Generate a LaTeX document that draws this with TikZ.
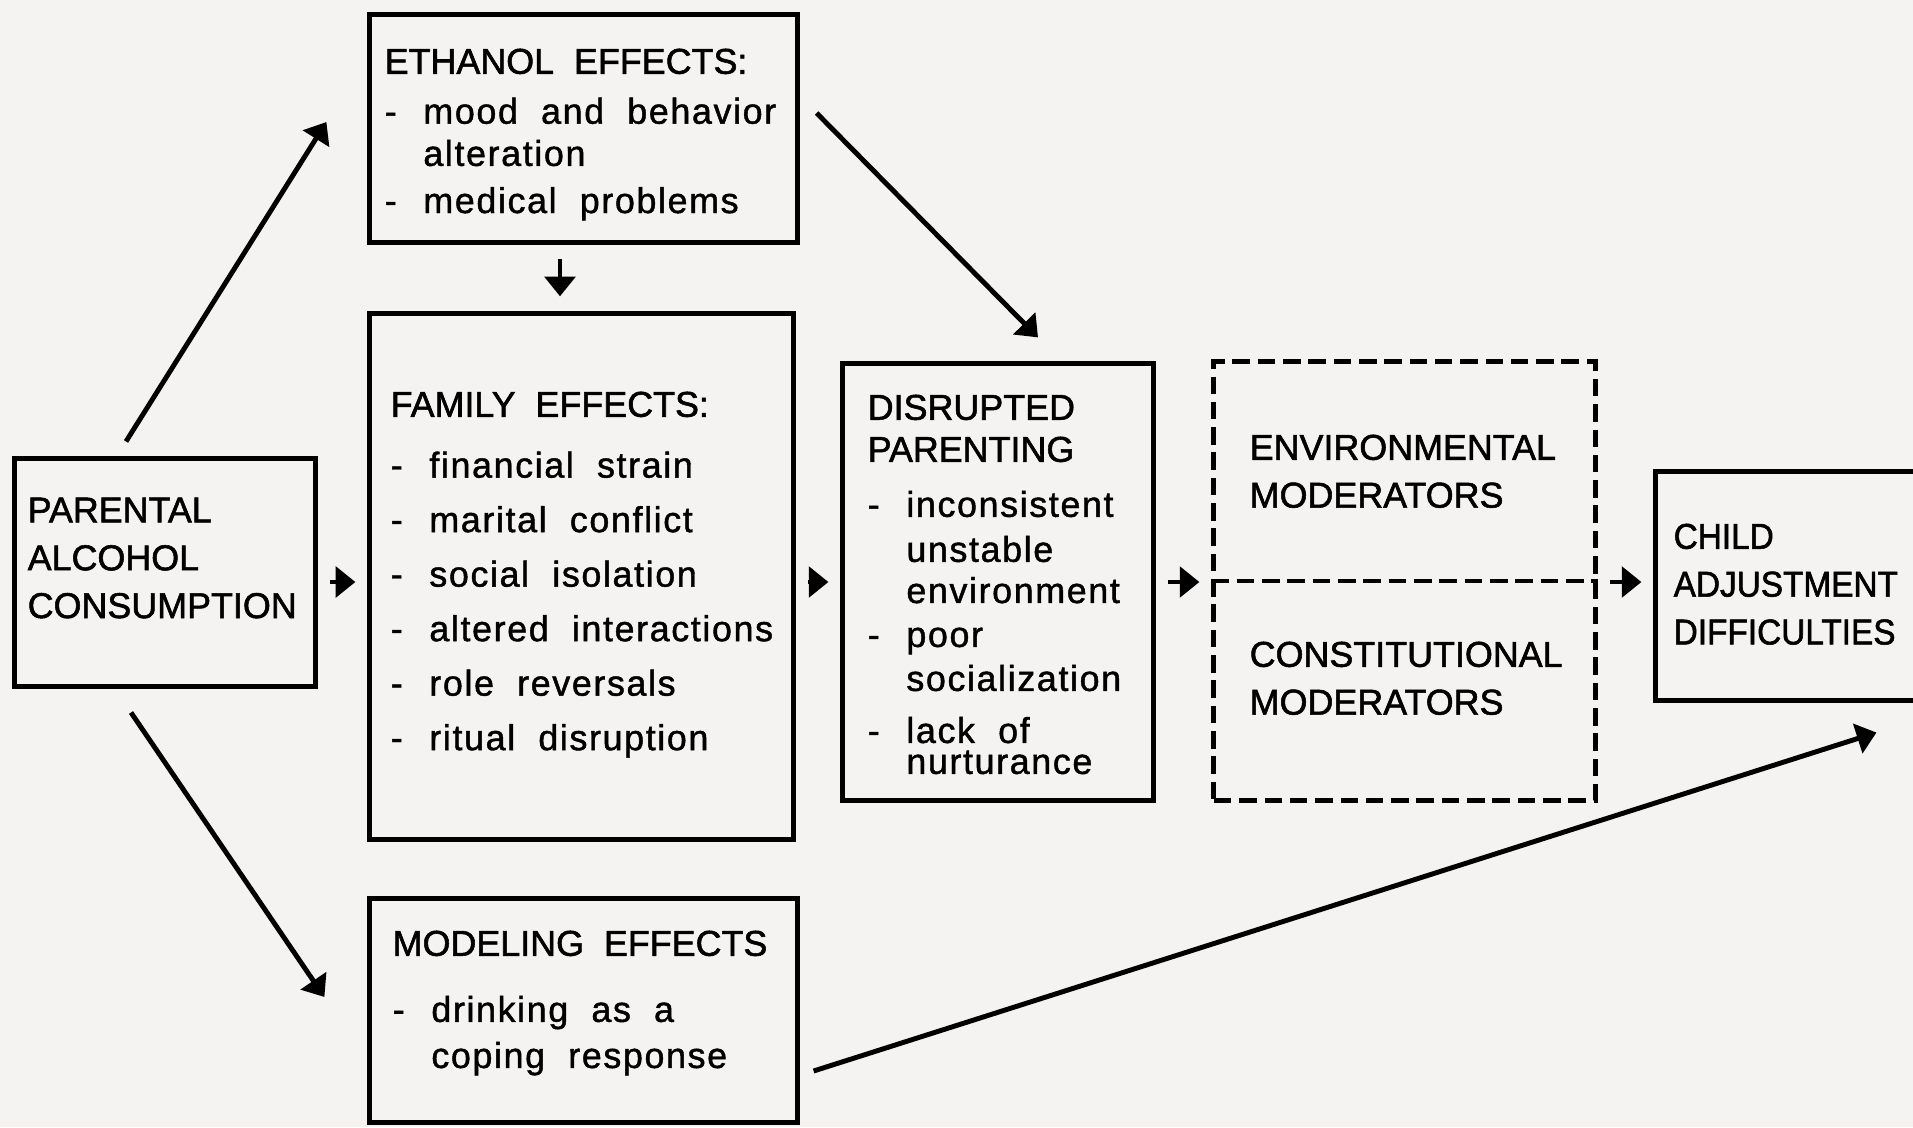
\documentclass[tikz,border=0pt]{standalone}
\usepackage{fontspec}
\setmainfont{Liberation Sans}[WordSpace=2, FakeBold=1.5]
\newfontfamily\headfont{Liberation Sans}[WordSpace=2, FakeBold=1.5]
\newfontfamily\itemfont{Liberation Sans}[LetterSpace=4.5, WordSpace=2, FakeBold=1.2]
\newfontfamily\childfont{Liberation Sans}[FakeStretch=0.93, WordSpace=2, FakeBold=1.5]
\usetikzlibrary{arrows.meta}
\definecolor{paper}{RGB}{245,243,241}
\newcommand{\hd}[1]{{\headfont #1}}
\newcommand{\itm}{\makebox[11pt][l]{-}}
\newcommand{\ind}{\hspace*{11pt}}

\begin{document}
\begin{tikzpicture}[x=0.01cm, y=-0.01cm,
  box/.style={draw, line width=1.4pt},
  txt/.style={anchor=north west, align=left, inner sep=0pt, font=\headfont\fontsize{10.2}{13.6}\selectfont},
  list/.style={txt, font=\itemfont\fontsize{10.2}{13.6}\selectfont},
  arr/.style={line width=1.4pt, -{Triangle[length=5.6pt, width=8.6pt]}},
  hop/.style={arr, shorten <=0.12cm, shorten >=0.12cm}]
\useasboundingbox (0,0) rectangle (1913,1127);
\clip (0,0) rectangle (1913,1127);
\fill[paper] (0,0) rectangle (1913,1127);

\node[box, minimum width=3cm, minimum height=2.27cm] (parental) at (165,572.5) {};
\node[box, minimum width=4.27cm, minimum height=2.27cm] (ethanol) at (583.5,128.5) {};
\node[box, minimum width=4.23cm, minimum height=5.25cm] (family) at (581.5,576.5) {};
\node[box, minimum width=4.27cm, minimum height=2.23cm] (modeling) at (583.5,1010.5) {};
\node[box, minimum width=3.1cm, minimum height=4.36cm] (disrupted) at (998,582) {};
\node[box, dash pattern=on 5pt off 2.2pt, minimum width=3.81cm, minimum height=4.38cm] (moder) at (1404.5,581) {};
\node[box, minimum width=3.04cm, minimum height=2.28cm] (child) at (1808,586) {};
\draw[line width=1.4pt, dash pattern=on 5pt off 2.2pt] (moder.west) -- (moder.east);

\node[txt] (parental-t) at (27,497) {PARENTAL\\ALCOHOL\\CONSUMPTION};
\node[list] (ethanol-t) at (384,48) {\hd{ETHANOL EFFECTS:}\\[0.6pt]
  \itm mood and behavior\\[-1.6pt]
  \ind alteration\\[-0.2pt]
  \itm medical problems};
\node[list] (family-t) at (390,391) {\hd{FAMILY EFFECTS:}\\[3.7pt]
  \itm financial strain\\[1.9pt]
  \itm marital conflict\\[1.9pt]
  \itm social isolation\\[1.9pt]
  \itm altered interactions\\[1.9pt]
  \itm role reversals\\[1.9pt]
  \itm ritual disruption};
\node[list] (modeling-t) at (392,930) {\hd{MODELING EFFECTS}\\[5.2pt]
  \itm drinking as a\\[-0.5pt]
  \ind coping response};
\node[list] (disrupted-t) at (867,394) {\hd{DISRUPTED}\\[-1.65pt]
  \hd{PARENTING}\\[2.05pt]
  \itm inconsistent\\[-0.8pt]
  \ind unstable\\[-1.9pt]
  \ind environment\\[-1.1pt]
  \itm poor\\[-1.1pt]
  \ind socialization\\[1.2pt]
  \itm lack of\\[-4.8pt]
  \ind nurturance};
\node[txt] (envmod-t) at (1249,434) {ENVIRONMENTAL\\MODERATORS};
\node[txt] (conmod-t) at (1249,641) {CONSTITUTIONAL\\MODERATORS};
\node[txt, font=\childfont\fontsize{10.2}{13.6}\selectfont] (child-t) at (1673,523) {CHILD\\ADJUSTMENT\\DIFFICULTIES};

\coordinate (mid) at (0,582);
\coordinate (drop) at ([xshift=-0.235cm]ethanol.south);
\draw[hop] (parental.east |- mid) -- (family.west |- mid);
\draw[hop] (family.east |- mid) -- (disrupted.west |- mid);
\draw[hop] (disrupted.east |- mid) -- (moder.west |- mid);
\draw[hop] (moder.east |- mid) -- (child.west |- mid);
\draw[arr, shorten <=0.14cm, shorten >=0.15cm] (drop) -- (drop |- family.north);
\draw[arr] ([shift={(-39,-15)}]parental.north) -- ([shift={(-41,-6.5)}]ethanol.west);
\draw[arr] ([shift={(-34,24)}]parental.south) -- ([shift={(-43,-13.5)}]modeling.west);
\draw[arr] ([shift={(17,-15.5)}]ethanol.east) -- ([shift={(40,-24)}]disrupted.north);
\draw[arr] ([shift={(14,60.5)}]modeling.east) -- ([shift={(223,30)}]child.south west);
\end{tikzpicture}
\end{document}
